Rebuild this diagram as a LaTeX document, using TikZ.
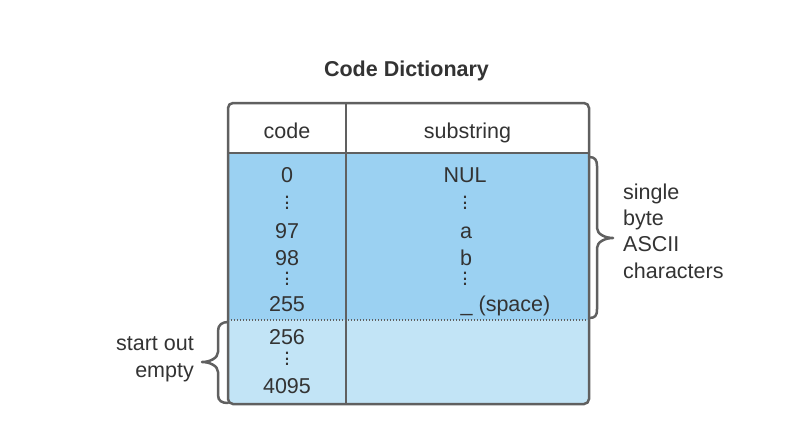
\documentclass[tikz,border=0pt]{standalone}
\usepackage{fontspec}
\setmainfont{Liberation Sans}
\usepackage{tikz}
\usetikzlibrary{positioning}
\definecolor{inkgray}{RGB}{51,51,51}
\definecolor{framegray}{RGB}{96,96,96}
\definecolor{usedblue}{RGB}{155,209,242}
\definecolor{freeblue}{RGB}{194,228,246}
\newcommand{\vdotz}{\vbox{\baselineskip5.5pt\lineskiplimit0pt\hbox{.}\hbox{.}\hbox{.}}}
\tikzset{
  cell/.style={text=inkgray,inner sep=0pt,font=\fontsize{21.5}{26.3}\selectfont},
  tableframe/.style={draw=framegray,line width=2.5pt,rounded corners=5pt},
  gridline/.style={draw=framegray,line width=2pt},
  dotline/.style={draw=framegray,line width=1.2pt,dash pattern=on 1.2pt off 1.8pt},
  curly/.style={draw=framegray,line width=2.5pt,line join=round,line cap=round}
}

\begin{document}
\begin{tikzpicture}[x=1pt,y=-1pt]
  \useasboundingbox (0,0) rectangle (789,444);
  \coordinate (tl) at (228,103);
  \coordinate (br) at (589,404);
  % table body
  \begin{scope}
    \clip[rounded corners=5pt] (tl) rectangle (br);
    \fill[white] (228,103) rectangle (589,153);
    \fill[usedblue] (228,153) rectangle (589,320);
    \fill[freeblue] (228,320) rectangle (589,404);
  \end{scope}
  \draw[dotline] (228,320) -- (589,320);
  \draw[gridline] (228,153) -- (589,153);
  \draw[gridline] (346,103) -- (346,404);
  \draw[tableframe] (tl) rectangle (br);

  \node[cell,anchor=base,font=\fontsize{21.5}{26.3}\selectfont\bfseries] (title) at (406.5,77) {Code Dictionary};
  \node[cell,anchor=base] (codehead) at (287,138) {code};
  \node[cell,anchor=base] (subhead) at (467.5,138) {substring};

  % code column
  \foreach \name/\txt/\y in {c0/0/182, c97/97/238, c98/98/265, c255/255/311, c256/256/344, c4095/4095/393}
    \node[cell,anchor=base] (\name) at (287,\y) {\txt};
  \foreach \name/\x/\y in {cd1/287/203, cd2/287/279, cd3/287/359, sd1/465/203, sd2/465/279}
    \node[cell] (\name) at (\x,\y) {\vdotz};

  % substring column
  \node[cell,anchor=base] (snul) at (465,182) {NUL};
  \node[cell,anchor=base] (sa) at (466,238) {a};
  \node[cell,anchor=base] (sb) at (466,265) {b};
  \node[cell,anchor=base] (sspace) at (505.5,311) {\_ (space)};

  % braces
  \draw[curly] (589,157) .. controls (595,157) and (597,160) .. (597,166) -- (597,228)
    .. controls (597,234) and (605,238) .. (613,238)
    .. controls (605,238) and (597,242) .. (597,248) -- (597,309)
    .. controls (597,316) and (595,318) .. (589,318);
  \draw[curly] (228,322) .. controls (222,322) and (218,325) .. (218,331) -- (218,352)
    .. controls (218,358) and (210,362) .. (202,362)
    .. controls (210,362) and (218,366) .. (218,372) -- (218,395)
    .. controls (218,401) and (222,403) .. (228,403);

  \node[cell,align=left,anchor=base west] (ascii) at (623,278) {single\\byte\\ASCII\\characters};
  \node[cell,align=right,anchor=base east] (empty) at (194,377) {start out\\empty};
\end{tikzpicture}
\end{document}
